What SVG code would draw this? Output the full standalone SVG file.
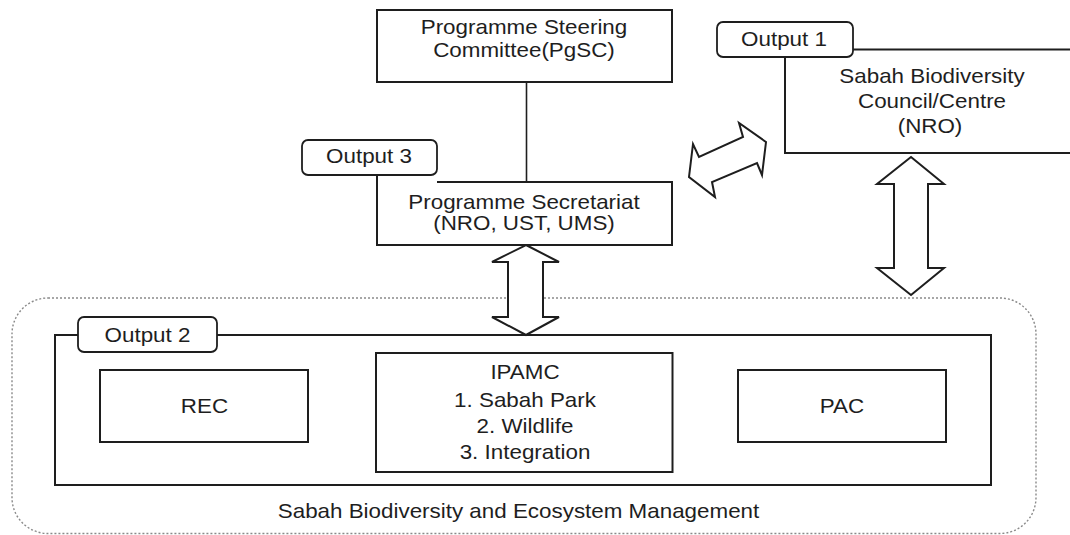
<svg xmlns="http://www.w3.org/2000/svg" width="1070" height="535" viewBox="0 0 1070 535">
<style>
  .box{fill:none;stroke:#1e1e1e;stroke-width:2}
  .tab{fill:#fff;stroke:#1e1e1e;stroke-width:1.8}
  .arrow{fill:#fff;stroke:#1e1e1e;stroke-width:2;stroke-linejoin:miter}
  .line{stroke:#1e1e1e;stroke-width:1.6;fill:none}
  .outer{fill:none;stroke:#8a8a8a;stroke-width:1.4;stroke-dasharray:2 2}
  text{font-family:"Liberation Sans",Arial,sans-serif;font-size:20px;fill:#1e1e1e;text-anchor:middle}
</style>
<rect width="1070" height="535" fill="#fff"/>

<g id="outer-region">
  <rect class="outer" x="12" y="298" width="1024" height="235.5" rx="36" ry="36"/>
  <text transform="translate(518.5,518) scale(1.12,1)">Sabah Biodiversity and Ecosystem Management</text>
</g>

<g id="connectors">
  <line class="line" x1="526.5" y1="82" x2="526.5" y2="182"/>
  <polygon id="arrow-diag" class="arrow" points="766,142 739,123 743,137 699,157 693,144 689,177 715,197 712,182 757,163 762,175"/>
  <polygon id="arrow-mid" class="arrow" points="526,245 559,262 543,262 543,317 559,317 526,335 492,317 508,317 508,262 492,262"/>
  <polygon id="arrow-right" class="arrow" points="911,157 944,184 928,184 928,268 944,268 911,295 877,268 894,268 894,184 877,184"/>
</g>

<g id="pgsc">
  <rect class="box" x="377" y="10" width="295" height="72"/>
  <text transform="translate(524,34) scale(1.12,1)">Programme Steering</text>
  <text transform="translate(524,57) scale(1.12,1)">Committee(PgSC)</text>
</g>

<g id="secretariat">
  <path class="box" d="M437,182 H672 V245 H377 V175"/>
  <rect class="tab" x="302" y="140" width="135" height="35" rx="6" ry="6"/>
  <text transform="translate(369,163) scale(1.12,1)">Output 3</text>
  <text transform="translate(524,209) scale(1.12,1)">Programme Secretariat</text>
  <text transform="translate(524,230) scale(1.12,1)">(NRO, UST, UMS)</text>
</g>

<g id="council">
  <path class="box" d="M853,49.5 H1072 M785,57 V153 H1072"/>
  <rect class="tab" x="717" y="22" width="136" height="35" rx="6" ry="6"/>
  <text transform="translate(784,45.5) scale(1.12,1)">Output 1</text>
  <text transform="translate(932,82.5) scale(1.12,1)">Sabah Biodiversity</text>
  <text transform="translate(932,107.5) scale(1.12,1)">Council/Centre</text>
  <text transform="translate(930,132.5) scale(1.12,1)">(NRO)</text>
</g>

<g id="output2">
  <rect class="box" x="55" y="335" width="936" height="150"/>
  <rect class="tab" x="78" y="317" width="139" height="35" rx="6" ry="6"/>
  <text transform="translate(147.5,341.5) scale(1.12,1)">Output 2</text>
</g>

<g id="rec">
  <rect class="box" x="100" y="370" width="208" height="72"/>
  <text transform="translate(204.5,413) scale(1.12,1)">REC</text>
</g>

<g id="ipamc">
  <rect class="box" x="376" y="353" width="296.5" height="119"/>
  <text transform="translate(525,379) scale(1.12,1)">IPAMC</text>
  <text transform="translate(525,406.5) scale(1.12,1)">1. Sabah Park</text>
  <text transform="translate(525,432.5) scale(1.12,1)">2. Wildlife</text>
  <text transform="translate(525,458.5) scale(1.12,1)">3. Integration</text>
</g>

<g id="pac">
  <rect class="box" x="738" y="370" width="208" height="72"/>
  <text transform="translate(842,412.5) scale(1.12,1)">PAC</text>
</g>
</svg>
